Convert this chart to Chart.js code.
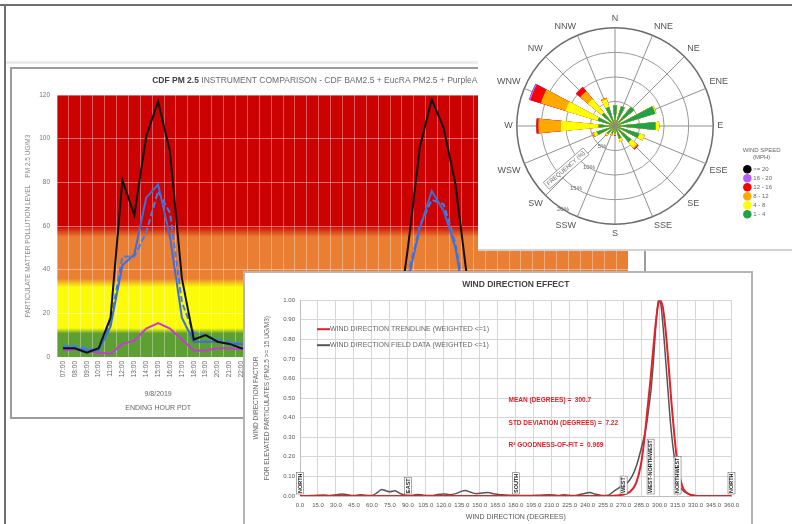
<!DOCTYPE html>
<html>
<head>
<meta charset="utf-8">
<script src="https://cdn.jsdelivr.net/npm/chart.js@4.4.0/dist/chart.umd.min.js"></script>
<style>
  body { margin: 0; width: 792px; height: 524px; overflow: hidden; background: #fff; position: relative; }
  .box { position: absolute; background: #fff; box-sizing: border-box; }
  canvas { position: absolute; }
</style>
</head>
<body>
<div class="box" style="left:0;top:4px;width:792px;height:2px;background:#707070"></div>
<div class="box" style="left:4px;top:4px;width:2px;height:520px;background:#707070"></div>
<div class="box" style="left:6px;top:61px;width:472px;height:3px;background:#ececec"></div>

<div class="box" style="left:10px;top:67px;width:636px;height:352px;border:2px solid #9c9c9c"></div>
<canvas id="pm" width="631" height="346" style="left:12px;top:69px"></canvas>

<div class="box" style="left:478px;top:6px;width:314px;height:245px;border-bottom:2px solid #d2d2d2"></div>
<canvas id="rose" width="296" height="226" style="left:486px;top:14px"></canvas>

<div class="box" style="left:243px;top:271px;width:510px;height:260px;border:2px solid #b4b4b4"></div>
<canvas id="wde" width="500" height="251" style="left:245px;top:273px"></canvas>

<script>
// ---------- PM 2.5 comparison ----------
const hourLabels = [
  '07:00','08:00','09:00','10:00','11:00','12:00','13:00','14:00','15:00','16:00','17:00','18:00',
  '19:00','20:00','21:00','22:00','23:00','00:00','01:00','02:00','03:00','04:00','05:00','06:00',
  '07:00','08:00','09:00','10:00','11:00','12:00','13:00','14:00','15:00','16:00','17:00','18:00',
  '19:00','20:00','21:00','22:00','23:00','00:00','01:00','02:00','03:00','04:00','05:00','06:00'
];
const dayNames = ['9/8/2019', '9/9/2019', '9/10/2019'];
const hourAxisCaption = 'ENDING HOUR PDT';

const bamPm25 = [4,4,2,4,18,81,65,101,117,94,36,8,10,7,6,4,3, 3,3,2,2,3,3,4,
                 4,5,5,6,10,50,96,118,105,79,35,9,8,6,5,5,4,4,3,3,3,3,3,4];
const purpleAirA = [4,4,3,3,14,42,47,73,79,55,18,7,7,7,6,6,5, 5,4,4,4,4,4,4,
                    4,4,5,6,9,35,59,76,67,50,18,8,7,6,6,5,5,4,4,4,4,4,4,4];
const purpleAirB = [5,5,4,3,16,46,46,57,76,66,25,11,10,8,7,6,5, 5,5,4,4,4,4,5,
                    5,5,6,7,10,38,60,72,70,52,22,10,8,7,6,6,5,5,5,4,4,4,5,5];
const eucraPm25 = [3,3.5,3,2,1.5,6,7.5,13,15.5,13,8,3,3,4,4,3.5,3, 3,3,2.5,2.5,2.5,2.5,3,
                   3,3,2.5,2,3,6,9,12,11,7,3,3,3,3,3,3,3,3,3,3,3,3,3,3];
const aqiLimits = [12, 34, 57.5];   // green | yellow | orange | red

// ---------- wind rose ----------
const directions = ['N','NNE','NE','ENE','E','ESE','SE','SSE','S','SSW','SW','WSW','W','WNW','NW','NNW'];
const speedClasses = ['1 - 4', '4 - 8', '8 - 12', '12 - 16', '16 - 20', '>= 20'];
const freq1to4   = [4.2,4.2,5.1,8.6,8.3,5.2,4.3,2.7,1.6,1.7,2.2,3.9,3.4,3.7,3.5,4.1];
const freq4to8   = [0,0,0,0.2,0.7,1.1,1.4,0.7,0.1,0.2,0.3,0.6,7.6,6.8,3.6,1.6];
const freq8to12  = [0,0,0,0,0,0,0.3,0,0.2,0.1,0.2,0.3,4.6,5.3,2.1,0.3];
const freq12to16 = [0,0,0,0,0,0,0.2,0,0.1,0,0,0,0.4,2.2,1.1,0];
const freq16to20 = [0,0,0,0,0,0,0,0,0,0,0,0,0,0.3,0,0];
const freq20plus = [0,0,0,0,0,0,0,0,0,0,0,0,0,0,0,0];

// ---------- wind direction effect ----------
const trendDeg = [0,15,30,45,60,75,90,105,120,135,150,165,180,195,210,225,240,255,260,265,270,275,280,283,
                  285,287.5,290,292.5,295,297.5,300,302.5,305,307.5,310,312.5,315,317.5,320,325,330,345,360];
const trendVal = [0,0,0,0,0,0,0,0,0,0,0,0,0,0,0,0,0,0,0,0.003,0.008,0.02,0.06,0.12,
                  0.18,0.3,0.45,0.6,0.77,0.92,1,0.97,0.85,0.67,0.47,0.3,0.16,0.08,0.035,0.008,0,0,0];
const fieldDeg = [0,10,20,25,30,35,40,45,50,55,60,65,68,72,75,79,83,87,92,98,103,110,115,120,125,130,135,138,
                  142,147,152,157,162,169,175,180,190,200,208,215,220,228,235,242,246,252,257,262,267,272,277,
                  281,285,289,291,293,295,297,299,301,303,305,307,309,311,313,315,317,320,325,330,340,350,360];
const fieldVal = [0,0.002,0.005,0.003,0.006,0.01,0.006,0.002,0.007,0.004,0.003,0.02,0.033,0.026,0.022,0.027,0.015,
                  0.005,0.002,0.008,0.004,0.003,0.008,0.01,0.007,0.012,0.025,0.028,0.02,0.012,0.015,0.018,0.01,
                  0.006,0.004,0.003,0.002,0.004,0.006,0.003,0.006,0.002,0.01,0.018,0.01,0.003,0.004,0.025,0.045,
                  0.06,0.1,0.16,0.25,0.36,0.45,0.55,0.7,0.88,1,0.98,0.86,0.7,0.54,0.38,0.26,0.17,0.09,0.05,0.025,
                  0.008,0.003,0,0,0];
const compassDeg = [0, 90, 180, 270, 292.5, 315, 360];
const compassNames = ['NORTH', 'EAST', 'SOUTH', 'WEST', 'WEST-NORTHWEST', 'NORTHWEST', 'NORTH'];
const fitStats = ['MEAN (DEGREES) =  300.7', 'STD DEVIATION (DEGREES) =  7.22', 'R\u00B2 GOODNESS-OF-FIT =  0.969'];

Chart.defaults.font.family = '"Liberation Sans", Arial, sans-serif';
Chart.defaults.animation = false;
Chart.defaults.plugins.tooltip.enabled = false;

// AQI colour bands behind the PM plot
const aqiBackground = {
  id: 'aqiBackground',
  beforeDraw(chart) {
    const { ctx, chartArea: a, scales: { y } } = chart;
    const g = ctx.createLinearGradient(0, y.getPixelForValue(y.min), 0, y.getPixelForValue(y.max));
    const f = v => v / (y.max - y.min);
    const cols = ['#5d9f33', '#fbfb0a', '#ea7f33', '#cc0202'];
    const blur = [1.2, 2, 2.5];
    g.addColorStop(0, cols[0]);
    aqiLimits.forEach((lim, i) => {
      g.addColorStop(f(lim - blur[i]), cols[i]);
      g.addColorStop(f(lim + blur[i]), cols[i + 1]);
    });
    g.addColorStop(1, cols[3]);
    ctx.save();
    ctx.fillStyle = g;
    ctx.fillRect(a.left, a.top, a.width, a.height);
    ctx.restore();
  }
};

// title with a bold lead
const pmTitle = {
  id: 'pmTitle',
  afterDraw(chart) {
    const { ctx, chartArea: a } = chart;
    const lead = 'CDF PM 2.5 ';
    const rest = 'INSTRUMENT COMPARISON - CDF BAM2.5 + EucRA PM2.5 + PurpleAir PM2.5 DATA';
    ctx.save();
    ctx.font = 'bold 8.5px "Liberation Sans", Arial';
    const w1 = ctx.measureText(lead).width;
    ctx.font = '8.5px "Liberation Sans", Arial';
    const w2 = ctx.measureText(rest).width;
    const x = (a.left + a.right) / 2 - (w1 + w2) / 2;
    const yy = a.top - 14;
    ctx.textBaseline = 'middle';
    ctx.font = 'bold 8.5px "Liberation Sans", Arial';
    ctx.fillStyle = '#404040';
    ctx.fillText(lead, x, yy);
    ctx.font = '8.5px "Liberation Sans", Arial';
    ctx.fillStyle = '#6a6a6a';
    ctx.fillText(rest, x + w1, yy);
    ctx.restore();
  }
};

// one date label under the middle of each day, the axis caption under the first
const dateAxisLabels = hourLabels.map(() => '');
{
  let start = 0, day = 0;
  hourLabels.forEach((h, i) => {
    if (i === hourLabels.length - 1 || hourLabels[i + 1] === '00:00') {
      const mid = Math.floor((start + i) / 2);
      dateAxisLabels[mid] = day === 0 ? [dayNames[day], hourAxisCaption] : dayNames[day];
      day++;
      start = i + 1;
    }
  });
}

new Chart(document.getElementById('pm'), {
  type: 'line',
  data: {
    labels: hourLabels,
    datasets: [
      { label: 'CDF BAM2.5', data: bamPm25, borderColor: '#111111', borderWidth: 2 },
      { label: 'PurpleAir A', data: purpleAirA, borderColor: '#3d6edb', borderWidth: 2 },
      { label: 'PurpleAir B', data: purpleAirB, borderColor: '#3f7fe6', borderWidth: 2, borderDash: [6, 3] },
      { label: 'EucRA PM2.5', data: eucraPm25, borderColor: '#c43cd4', borderWidth: 2 }
    ]
  },
  options: {
    responsive: false,
    elements: { point: { radius: 0 }, line: { tension: 0 } },
    layout: { padding: { top: 26, right: 15, left: 0, bottom: 0 } },
    plugins: { legend: { display: false } },
    scales: {
      x: {
        offset: true,
        grid: { offset: true, color: 'rgba(255,255,255,0.35)', drawTicks: false },
        border: { display: false },
        ticks: { font: { size: 6.5 }, color: '#666', maxRotation: 90, minRotation: 90, autoSkip: false, padding: 4 },
        afterFit: s => { s.height = 30; }
      },
      x2: {
        type: 'category', labels: dateAxisLabels, position: 'bottom', offset: true, weight: 1,
        grid: { display: false, drawTicks: false }, border: { display: false },
        ticks: { font: { size: 7, lineHeight: 2 }, color: '#666', maxRotation: 0, autoSkip: false, padding: 0 },
        afterFit: s => { s.height = 28; }
      },
      y: {
        min: 0, max: 120,
        ticks: { stepSize: 20, font: { size: 6.5 }, color: '#777', padding: 7 },
        grid: { color: 'rgba(255,255,255,0.4)', drawTicks: false },
        border: { display: false },
        title: { display: true, text: 'PARTICULATE MATTER POLLUTION LEVEL    PM 2.5 UG/M3',
                 font: { size: 6.5 }, color: '#8a8a8a', padding: { top: 12, bottom: 0 } },
        afterFit: s => { s.width = 45; }
      }
    }
  },
  plugins: [aqiBackground, pmTitle]
});

// ---------- wind rose ----------
const petalWidth = 11;
const speedSeries = [freq1to4, freq4to8, freq8to12, freq12to16, freq16to20, freq20plus];
const speedColors = ['#22a04a', '#ffff00', '#ffa800', '#ff0000', '#b95cff', '#000000'];
const cumulative = speedSeries.map((s, c) =>
  directions.map((d, i) => speedSeries.slice(0, c + 1).reduce((t, arr) => t + arr[i], 0)));

const roseText = {
  id: 'roseText',
  afterDraw(chart) {
    const r = chart.scales.r, ctx = chart.ctx;
    ctx.save();
    ctx.fillStyle = '#8a8a8a';
    ctx.beginPath();
    ctx.arc(r.xCenter, r.yCenter, 3, 0, Math.PI * 2);
    ctx.fill();
    const a = 212 * Math.PI / 180;
    ctx.font = '6px "Liberation Sans", Arial';
    ctx.fillStyle = '#6a6a6a';
    ctx.textAlign = 'center';
    ctx.textBaseline = 'middle';
    r.ticks.forEach(t => {
      if (!t.value) return;
      const d = r.getDistanceFromCenterForValue(t.value);
      ctx.fillText(t.value + '%', r.xCenter + Math.sin(a) * d, r.yCenter - Math.cos(a) * d);
    });
    const b = 229 * Math.PI / 180, d = r.drawingArea * 0.66;
    ctx.translate(r.xCenter + Math.sin(b) * d, r.yCenter - Math.cos(b) * d);
    ctx.rotate(Math.atan2(Math.cos(b), -Math.sin(b)));
    const txt = 'FREQUENCY (%)';
    const w = ctx.measureText(txt).width;
    ctx.fillStyle = '#ffffff';
    ctx.fillRect(-w / 2 - 2, -4.5, w + 4, 9);
    ctx.strokeStyle = '#8a8a8a';
    ctx.lineWidth = 0.8;
    ctx.strokeRect(-w / 2 - 2, -4.5, w + 4, 9);
    ctx.fillStyle = '#6a6a6a';
    ctx.fillText(txt, 0, 0);
    ctx.restore();
  }
};

new Chart(document.getElementById('rose'), {
  type: 'polarArea',
  data: {
    labels: directions,
    datasets: speedClasses.map((name, c) => ({
      label: name,
      // a leading empty arc turns the petals half a width back so each one sits on its spoke
      data: [0].concat(directions.flatMap((d, i) => [cumulative[c][i], 0])),
      angle: [360 - petalWidth / 2].concat(directions.flatMap(() => [petalWidth, 22.5 - petalWidth])),
      backgroundColor: speedColors[c],
      borderWidth: 0
    }))
  },
  options: {
    responsive: false,
    layout: { padding: 0 },
    scales: {
      r: {
        min: 0, max: 20,
        ticks: { display: false, stepSize: 5 },
        grid: { circular: true,
                color: c => c.tick && c.tick.value === 20 ? '#6c6c6c' : '#999999',
                lineWidth: c => c.tick && c.tick.value === 20 ? 1.5 : 1 },
        angleLines: { display: true, color: '#909090', lineWidth: 1 },
        pointLabels: { display: true, font: { size: 9 }, color: '#555', padding: 4 }
      }
    },
    plugins: {
      legend: {
        position: 'right', align: 'start',
        title: { display: true, text: ['WIND SPEED', '(MPH)'], color: '#666', font: { size: 6 },
                 padding: { top: 133, bottom: 9 } },
        labels: {
          usePointStyle: true, boxWidth: 6, boxHeight: 6, padding: 3, color: '#555', font: { size: 6 },
          generateLabels: chart => chart.data.datasets.map((ds, i) => ({
            text: ds.label, fillStyle: ds.backgroundColor, strokeStyle: ds.backgroundColor,
            lineWidth: 0, pointStyle: 'circle', hidden: false, datasetIndex: i
          })).reverse()
        }
      }
    }
  },
  plugins: [roseText]
});

// ---------- wind direction effect ----------
const wdeText = {
  id: 'wdeText',
  afterDraw(chart) {
    const { ctx, chartArea: a, scales: { x, y } } = chart;
    ctx.save();
    // legend inside the plot
    ctx.font = '7px "Liberation Sans", Arial';
    ctx.textBaseline = 'middle';
    chart.data.datasets.forEach((ds, i) => {
      const ly = a.top + 29 + i * 16;
      ctx.strokeStyle = ds.borderColor;
      ctx.lineWidth = 2;
      ctx.beginPath();
      ctx.moveTo(a.left + 17, ly);
      ctx.lineTo(a.left + 30, ly);
      ctx.stroke();
      ctx.fillStyle = '#666';
      ctx.fillText(ds.label, a.left + 30, ly);
    });
    // fit statistics
    ctx.font = 'bold 6.5px "Liberation Sans", Arial';
    ctx.fillStyle = '#e0202a';
    [0.49, 0.37, 0.26].forEach((v, i) => ctx.fillText(fitStats[i], x.getPixelForValue(174), y.getPixelForValue(v)));
    // compass markers
    ctx.font = 'bold 5.5px "Liberation Sans", Arial';
    compassDeg.forEach((deg, i) => {
      const px = x.getPixelForValue(deg), py = y.getPixelForValue(0) - 3;
      const w = ctx.measureText(compassNames[i]).width;
      ctx.save();
      ctx.translate(px, py);
      ctx.rotate(-Math.PI / 2);
      ctx.fillStyle = '#ffffff';
      ctx.fillRect(-1, -3.5, w + 2, 7);
      ctx.strokeStyle = '#555';
      ctx.lineWidth = 0.5;
      ctx.strokeRect(-1, -3.5, w + 2, 7);
      ctx.fillStyle = '#222';
      ctx.fillText(compassNames[i], 0, 0.3);
      ctx.restore();
    });
    ctx.restore();
  }
};

new Chart(document.getElementById('wde'), {
  type: 'line',
  data: {
    datasets: [
      { label: 'WIND DIRECTION TRENDLINE (WEIGHTED <=1)', data: trendDeg.map((d, i) => ({ x: d, y: trendVal[i] })),
        borderColor: '#e3212b', borderWidth: 2, cubicInterpolationMode: 'monotone' },
      { label: 'WIND DIRECTION FIELD DATA (WEIGHTED <=1)', data: fieldDeg.map((d, i) => ({ x: d, y: fieldVal[i] })),
        borderColor: '#555555', borderWidth: 1.5, cubicInterpolationMode: 'monotone' }
    ]
  },
  options: {
    responsive: false,
    elements: { point: { radius: 0 } },
    layout: { padding: { top: 0, right: 13, left: 0, bottom: 0 } },
    plugins: {
      legend: { display: false },
      title: { display: true, fullSize: false, text: 'WIND DIRECTION EFFECT', color: '#444',
               font: { size: 8.5, weight: 'bold' }, padding: { top: 7, bottom: 10 } }
    },
    scales: {
      x: {
        type: 'linear', min: 0, max: 360,
        ticks: { stepSize: 15, autoSkip: false, maxRotation: 0, font: { size: 6 }, color: '#555', padding: 6,
                 callback: v => v.toFixed(1) },
        grid: { color: '#d6d6d6', drawTicks: false },
        border: { color: '#bdbdbd' },
        title: { display: true, text: 'WIND DIRECTION (DEGREES)', font: { size: 7 }, color: '#555', padding: { top: 2, bottom: 3 } },
        afterFit: s => { s.height = 28; }
      },
      y: {
        min: 0, max: 1,
        ticks: { stepSize: 0.1, font: { size: 6 }, color: '#555', padding: 5, callback: v => v.toFixed(2) },
        grid: { color: '#d6d6d6', drawTicks: false },
        border: { color: '#bdbdbd' },
        title: { display: true, text: ['WIND DIRECTION FACTOR', 'FOR ELEVATED PARTICULATES (PM2.5 >= 15 UG/M3)'],
                 font: { size: 6.5, lineHeight: 1.7 }, color: '#666', padding: { top: 6, bottom: 0 } },
        afterFit: s => { s.width = 55; }
      }
    }
  },
  plugins: [wdeText]
});
</script>
</body>
</html>
